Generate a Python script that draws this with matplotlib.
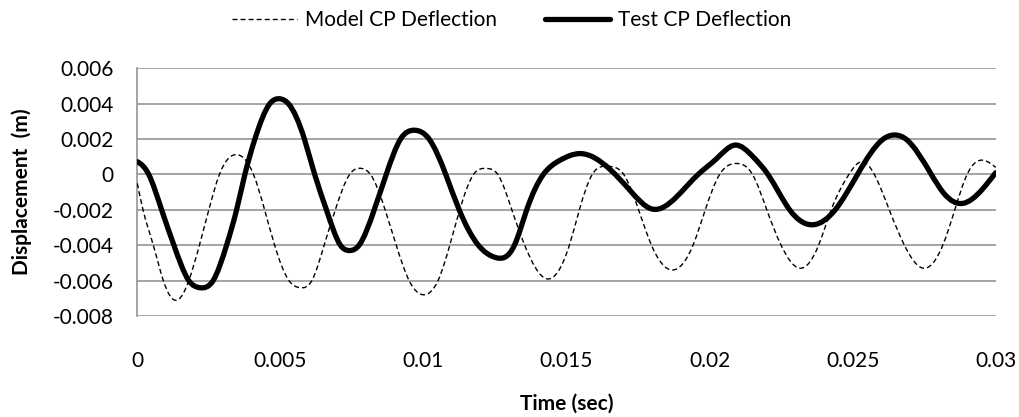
import numpy as np
import matplotlib
matplotlib.use("Agg")
import matplotlib.pyplot as plt
from matplotlib.path import Path
from matplotlib.patches import PathPatch
from matplotlib.lines import Line2D

plt.rcParams['font.family'] = ['Lato', 'DejaVu Sans']

# ---- data ----
model_t = [0, 0.00020, 0.00056, 0.00091, 0.00140, 0.00180, 0.00217, 0.00250, 0.00287, 0.00345,
           0.00406, 0.00445, 0.00480, 0.00530, 0.00569, 0.00610, 0.00653, 0.00692, 0.00742, 0.00784,
           0.00815, 0.00866, 0.00905, 0.00950, 0.01002, 0.01051, 0.01092, 0.01127, 0.01175, 0.01221,
           0.01260, 0.01309, 0.01354, 0.01431, 0.01510, 0.01545, 0.01590, 0.01645, 0.01700, 0.01752,
           0.01797, 0.01870, 0.01942, 0.01985, 0.02035, 0.02093, 0.02150, 0.02200, 0.02250, 0.02316,
           0.02381, 0.02425, 0.02487, 0.02530, 0.02576, 0.02628, 0.02681, 0.02747, 0.02815, 0.02857,
           0.02900, 0.02963, 0.03000]
model_v = [-0.0005, -0.002, -0.004, -0.006, -0.0071, -0.006, -0.004, -0.002, 0.0, 0.00112,
           0.0, -0.002, -0.004, -0.006, -0.0064, -0.006, -0.004, -0.002, 0.0, 0.00034,
           0.0, -0.002, -0.004, -0.006, -0.0068, -0.006, -0.004, -0.002, 0.0, 0.00034,
           0.0, -0.002, -0.004, -0.0059, -0.004, -0.002, 0.0, 0.00046, 0.0, -0.002,
           -0.004, -0.0054, -0.004, -0.002, 0.0, 0.00062, 0.0, -0.002, -0.004, -0.0053,
           -0.004, -0.002, 0.0, 0.00072, 0.0, -0.002, -0.004, -0.0053, -0.004, -0.002,
           0.0, 0.00078, 0.0004]

test_t = [0, 0.00040, 0.00085, 0.00128, 0.00180, 0.00219, 0.00265, 0.00312, 0.00347, 0.00376,
          0.00411, 0.00463, 0.00496, 0.00528, 0.00584, 0.00620, 0.00661, 0.00710, 0.00741, 0.00775,
          0.00828, 0.00870, 0.00920, 0.00968, 0.01020, 0.01078, 0.01125, 0.01192, 0.01253, 0.01318,
          0.01361, 0.01419, 0.01477, 0.01547, 0.01651, 0.01722, 0.01798, 0.01885, 0.01960, 0.02025,
          0.02089, 0.02152, 0.02204, 0.02280, 0.02363, 0.02439, 0.02517, 0.02607, 0.02645, 0.02686,
          0.02775, 0.02818, 0.02887, 0.02951, 0.03000]
test_v = [0.00072, 0.0, -0.002, -0.004, -0.006, -0.0064, -0.006, -0.004, -0.002, 0.0,
          0.002, 0.004, 0.00428, 0.004, 0.002, 0.0, -0.002, -0.004, -0.0043, -0.004,
          -0.002, 0.0, 0.002, 0.0025, 0.002, 0.0, -0.002, -0.004, -0.0047, -0.004,
          -0.002, 0.0, 0.0008, 0.00118, 0.0003, -0.0009, -0.00195, -0.00126, 0.0, 0.0009,
          0.00166, 0.001, 0.0, -0.002, -0.00284, -0.002, 0.0, 0.002, 0.00223, 0.002,
          0.0, -0.00105, -0.00163, -0.00088, 0.0001]

x_ticks = [0, 0.005, 0.01, 0.015, 0.02, 0.025, 0.03]
x_labels = ["0", "0.005", "0.01", "0.015", "0.02", "0.025", "0.03"]
y_ticks = [-0.008, -0.006, -0.004, -0.002, 0, 0.002, 0.004, 0.006]
y_labels = ["-0.008", "-0.006", "-0.004", "-0.002", "0", "0.002", "0.004", "0.006"]

series_names = ["Model CP Deflection", "Test CP Deflection"]


def smooth_path(xs, ys, start_slope=None):
    """Smoothed line through the points: C2 cubic spline drawn as Bezier segments."""
    x = np.asarray(xs, float)
    y = np.asarray(ys, float)
    n = len(x)
    h = np.diff(x)
    d = np.diff(y) / h
    A = np.zeros((n, n))
    b = np.zeros(n)
    if start_slope is None:
        A[0, 0], A[0, 1], b[0] = 2.0, 1.0, 3.0 * d[0]
    else:
        A[0, 0], b[0] = 1.0, start_slope
    A[-1, -2], A[-1, -1], b[-1] = 1.0, 2.0, 3.0 * d[-1]
    for i in range(1, n - 1):
        A[i, i - 1] = 1.0 / h[i - 1]
        A[i, i] = 2.0 * (1.0 / h[i - 1] + 1.0 / h[i])
        A[i, i + 1] = 1.0 / h[i]
        b[i] = 3.0 * (d[i - 1] / h[i - 1] + d[i] / h[i])
    m = np.linalg.solve(A, b)
    verts = [(x[0], y[0])]
    codes = [Path.MOVETO]
    for i in range(n - 1):
        verts += [(x[i] + h[i] / 3.0, y[i] + m[i] * h[i] / 3.0),
                  (x[i + 1] - h[i] / 3.0, y[i + 1] - m[i + 1] * h[i] / 3.0),
                  (x[i + 1], y[i + 1])]
        codes += [Path.CURVE4] * 3
    return Path(verts, codes)


fig = plt.figure(figsize=(10.2, 4.17), dpi=100)
ax = fig.add_axes([137.3 / 1020, 1 - 316 / 417, (995.7 - 137.3) / 1020, (316 - 68.3) / 417])

grid_col = "#8c8c8c"
ax.set_xlim(0, 0.03)
ax.set_ylim(-0.008, 0.006)
ax.set_yticks(y_ticks)
ax.set_yticklabels(y_labels)
ax.set_xticks(x_ticks)
ax.set_xticklabels(x_labels)
ax.yaxis.grid(True, color=grid_col, linewidth=1.1)
ax.set_axisbelow(True)
for s in ["top", "right", "bottom"]:
    ax.spines[s].set_visible(False)
ax.spines["left"].set_color(grid_col)
ax.spines["left"].set_linewidth(1.1)
ax.tick_params(axis="both", length=0, labelsize=15, colors="black")
ax.tick_params(axis="y", pad=17)
ax.tick_params(axis="x", pad=25)

dash = (0, (3.6, 2.2))
model_patch = PathPatch(smooth_path(model_t, model_v), facecolor="none", edgecolor="black",
                        linewidth=1.0, linestyle=dash, zorder=3)
test_patch = PathPatch(smooth_path(test_t, test_v, start_slope=-0.8), facecolor="none",
                       edgecolor="black", linewidth=3.8, capstyle="round", joinstyle="round",
                       zorder=4)
ax.add_patch(model_patch)
ax.add_patch(test_patch)

handles = [Line2D([], [], color="black", linewidth=1.0, linestyle=dash),
           Line2D([], [], color="black", linewidth=3.8, solid_capstyle="round")]
fig.legend(handles, series_names, loc="center", bbox_to_anchor=(512 / 1020, 1 - 20 / 417),
           ncol=2, frameon=False, fontsize=15, handlelength=3.1, handletextpad=0.4,
           columnspacing=2.3)

fig.text(566.5 / 1020, 1 - 404 / 417, "Time (sec)", ha="center", va="center",
         fontsize=15, fontweight="bold")
fig.text(22 / 1020, 1 - 192 / 417, "Displacement  (m)", ha="center", va="center",
         rotation=90, fontsize=15, fontweight="bold")

fig.savefig("out.png", dpi=100, facecolor="white")
